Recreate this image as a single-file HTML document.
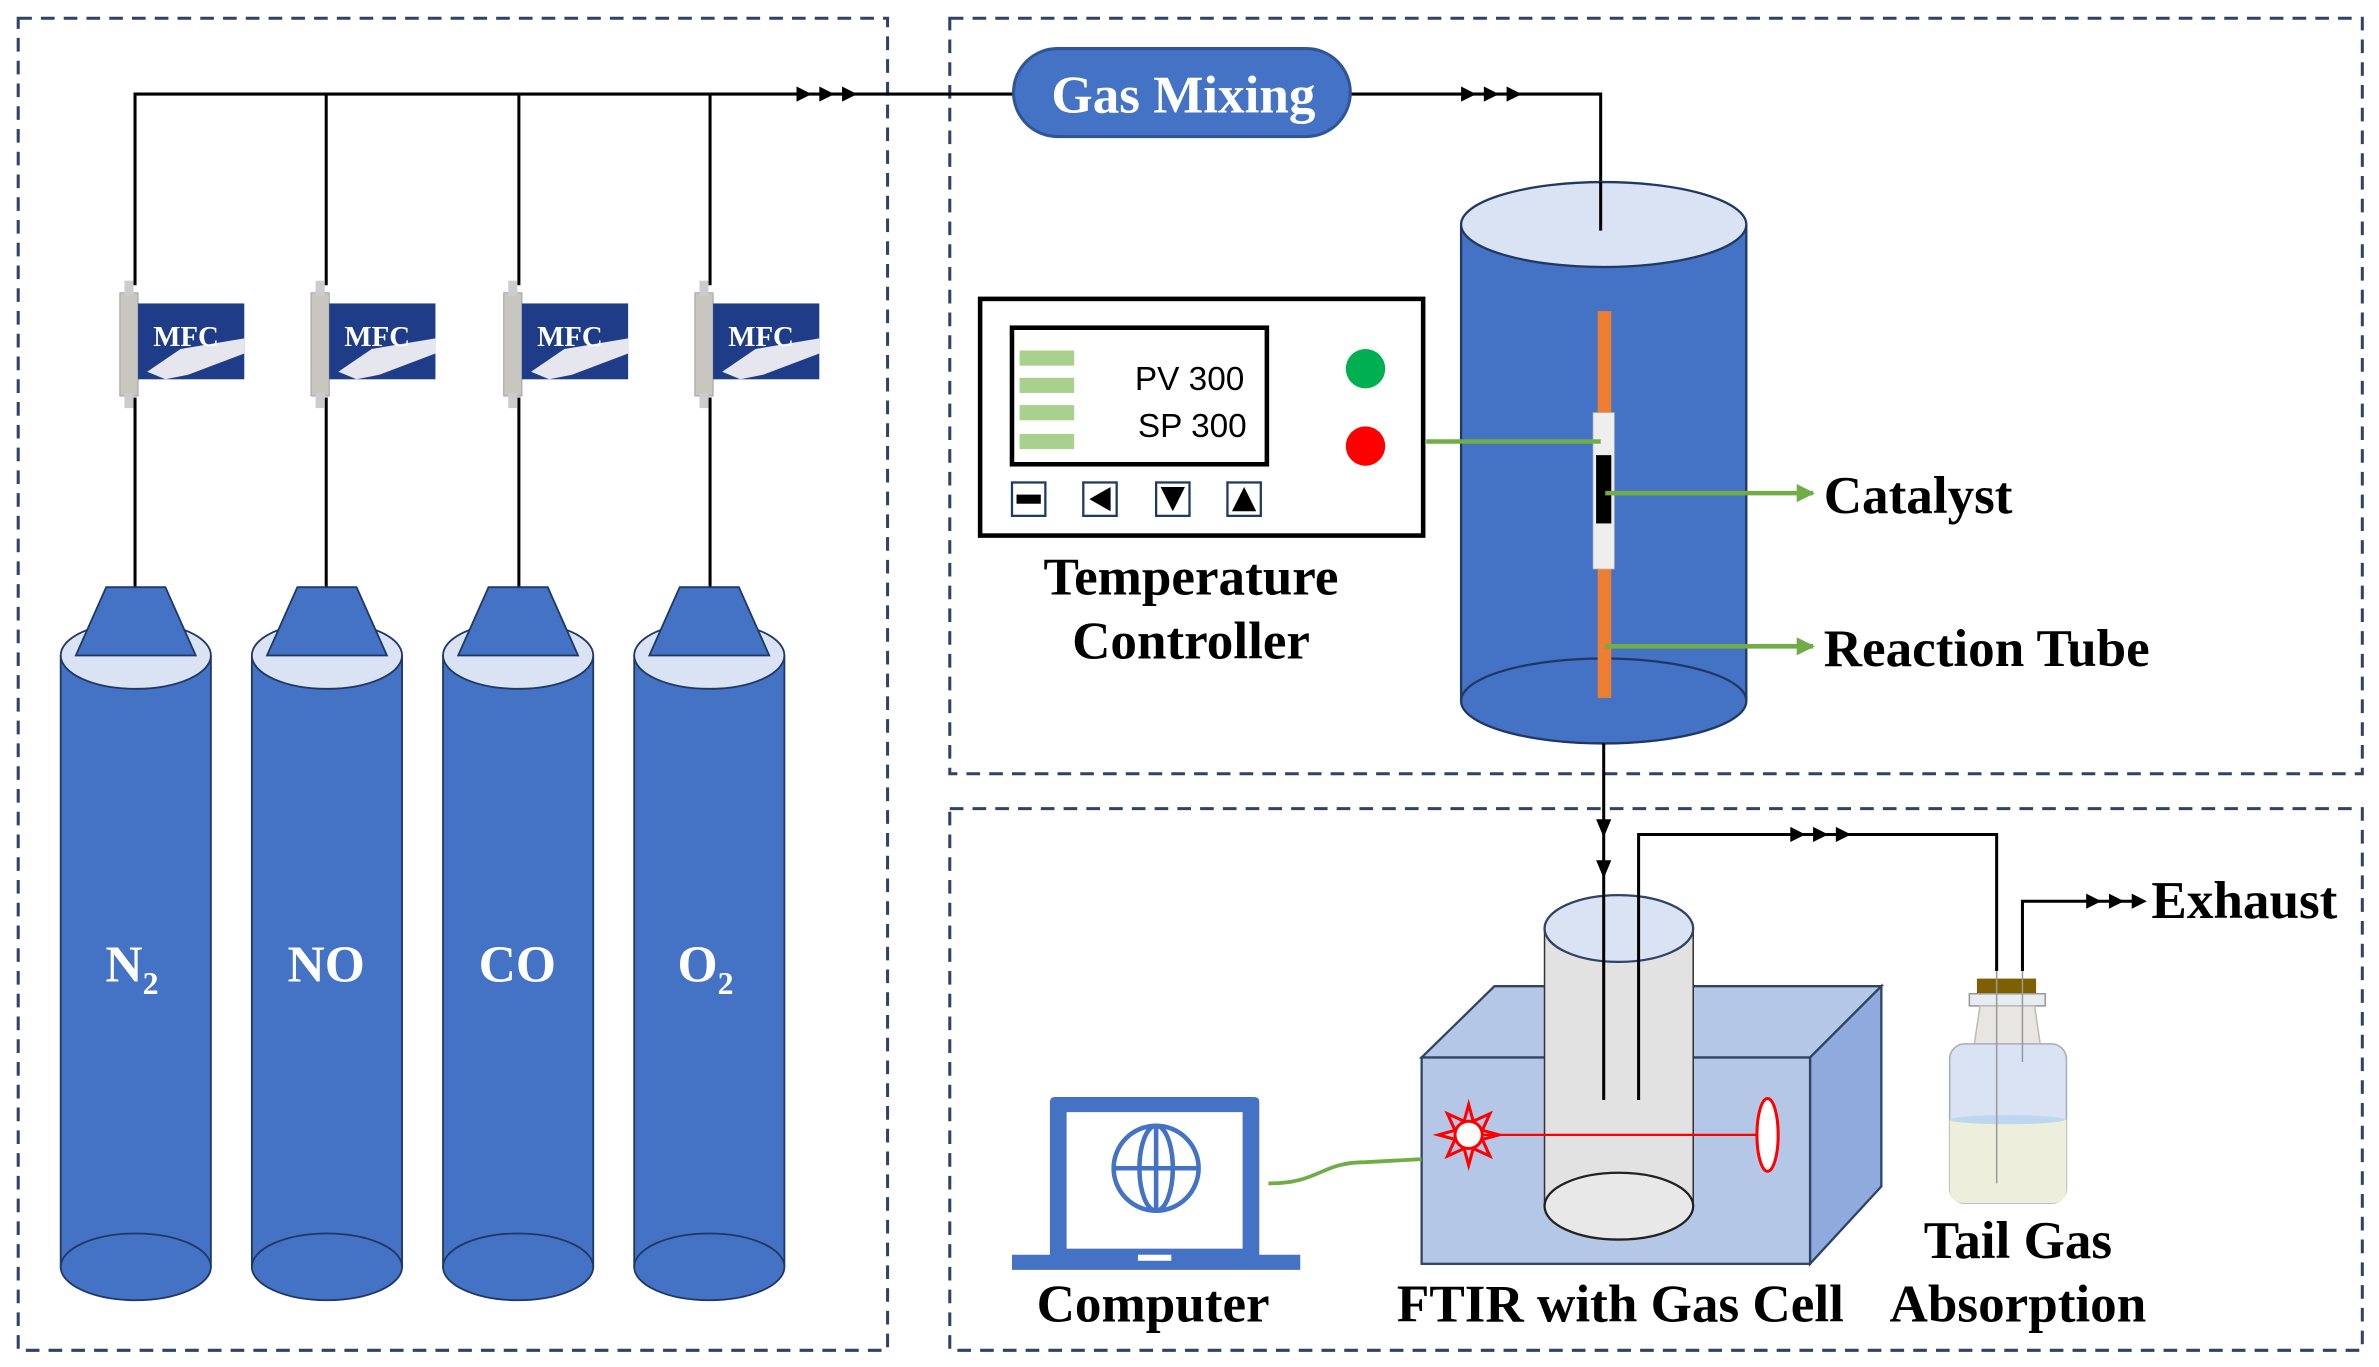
<!DOCTYPE html>
<html><head><meta charset="utf-8"><style>
html,body{margin:0;padding:0;background:#fff;}
svg{display:block;}
text{font-family:"Liberation Serif",serif;font-weight:bold;}
</style></head><body>
<svg width="2379" height="1367" viewBox="0 0 1568 901" preserveAspectRatio="none" xmlns="http://www.w3.org/2000/svg">
<defs>
<marker id="ag" viewBox="0 0 10 10" refX="9" refY="5" markerWidth="4" markerHeight="4" orient="auto"><path d="M0,0L10,5L0,10z" fill="#70ad47"/></marker>
<g id="tri"><path d="M0,-5L10,0L0,5z" fill="#000"/></g>
<g id="ttt"><use href="#tri" x="0"/><use href="#tri" x="15"/><use href="#tri" x="30"/></g>
<g id="mfc">
<rect x="-10" y="-32" width="12" height="68" fill="#c8c6c0" stroke="#999" stroke-width="0.6"/>
<rect x="-7" y="-40" width="6" height="10" fill="#ccc"/>
<rect x="-7" y="34" width="6" height="10" fill="#ccc"/>
<rect x="2" y="-25" width="70" height="50" fill="#1f3c88"/>
<path d="M8,20L30,5L72,-2L72,8L35,22L20,25z" fill="#e6e6ef"/>
<text x="12" y="3" font-size="19" fill="#fff">MFC</text>
</g>
<g id="cyl">
<rect x="0" y="432" width="99" height="403" fill="#4472c4"/>
<ellipse cx="49.5" cy="835" rx="49.5" ry="22" fill="#4472c4" stroke="#1f3864" stroke-width="1.2"/>
<line x1="0" y1="432" x2="0" y2="835" stroke="#1f3864" stroke-width="1.2"/>
<line x1="99" y1="432" x2="99" y2="835" stroke="#1f3864" stroke-width="1.2"/>
<ellipse cx="49.5" cy="432" rx="49.5" ry="22" fill="#dae3f3" stroke="#1f3864" stroke-width="1.2"/>
<path d="M30,387L69,387L89,432L10,432z" fill="#4472c4" stroke="#1f3864" stroke-width="1.2"/>
</g>
</defs>

<g fill="none" stroke="#2f4366" stroke-width="2" stroke-dasharray="9,6">
<rect x="12" y="12" width="573" height="878"/>
<rect x="626" y="12" width="931" height="498"/>
<rect x="626" y="533" width="931" height="357"/>
</g>

<g stroke="#000" stroke-width="2" fill="none">
<polyline points="89,188 89,62 668,62"/>
<line x1="215" y1="62" x2="215" y2="188"/>
<line x1="342" y1="62" x2="342" y2="188"/>
<line x1="468" y1="62" x2="468" y2="188"/>
<line x1="89" y1="262" x2="89" y2="387"/>
<line x1="215" y1="262" x2="215" y2="387"/>
<line x1="342" y1="262" x2="342" y2="387"/>
<line x1="468" y1="262" x2="468" y2="387"/>
<polyline points="890,62 1055,62 1055,152"/>
</g>
<use href="#ttt" x="525" y="62"/>
<use href="#ttt" x="963" y="62"/>

<use href="#mfc" x="89" y="225"/>
<use href="#mfc" x="215" y="225"/>
<use href="#mfc" x="342" y="225"/>
<use href="#mfc" x="468" y="225"/>

<use href="#cyl" x="40"/>
<use href="#cyl" x="166"/>
<use href="#cyl" x="292"/>
<use href="#cyl" x="418"/>
<g fill="#fff" font-size="34" text-anchor="middle">
<text x="87" y="647">N<tspan font-size="21" dy="8">2</tspan></text>
<text x="215" y="647">NO</text>
<text x="341" y="647">CO</text>
<text x="465" y="647">O<tspan font-size="21" dy="8">2</tspan></text>
</g>

<rect x="668" y="32" width="222" height="58" rx="29" fill="#4472c4" stroke="#2f5597" stroke-width="2"/>
<text x="780" y="74" font-size="35" fill="#fff" text-anchor="middle">Gas Mixing</text>

<rect x="963" y="148" width="188" height="314" fill="#4472c4"/>
<line x1="963" y1="148" x2="963" y2="462" stroke="#1f3864" stroke-width="1.5"/>
<line x1="1151" y1="148" x2="1151" y2="462" stroke="#1f3864" stroke-width="1.5"/>
<ellipse cx="1057" cy="462" rx="94" ry="28" fill="#4472c4" stroke="#1f3864" stroke-width="1.5"/>
<ellipse cx="1057" cy="148" rx="94" ry="28" fill="#dae3f3" stroke="#1f3864" stroke-width="1.5"/>
<line x1="1055" y1="120" x2="1055" y2="152" stroke="#000" stroke-width="2"/>
<rect x="1053" y="205" width="9" height="255" fill="#ed7d31"/>
<rect x="1050" y="272" width="14" height="103" fill="#eee" stroke="#bbb" stroke-width="0.5"/>
<rect x="1052" y="300" width="10" height="45" fill="#000"/>
<g stroke="#70ad47" stroke-width="3">
<line x1="940" y1="291" x2="1055" y2="291"/>
<line x1="1058" y1="325" x2="1195" y2="325" marker-end="url(#ag)"/>
<line x1="1058" y1="426" x2="1195" y2="426" marker-end="url(#ag)"/>
</g>
<text x="1202" y="338" font-size="35">Catalyst</text>
<text x="1202" y="439" font-size="35">Reaction Tube</text>

<rect x="646" y="197" width="292" height="156" fill="#fff" stroke="#000" stroke-width="3"/>
<rect x="667" y="216" width="168" height="90" fill="#fff" stroke="#000" stroke-width="3"/>
<g fill="#a9d18e"><rect x="672" y="231" width="36" height="10"/><rect x="672" y="249" width="36" height="10"/><rect x="672" y="267" width="36" height="10"/><rect x="672" y="286" width="36" height="10"/></g>
<text x="748" y="257" font-size="22" style="font-family:'Liberation Sans',sans-serif;font-weight:normal">PV 300</text>
<text x="750" y="288" font-size="22" style="font-family:'Liberation Sans',sans-serif;font-weight:normal">SP 300</text>
<circle cx="900" cy="243" r="13" fill="#00b050"/>
<circle cx="900" cy="294" r="13" fill="#ff0000"/>
<g stroke="#1f3864" stroke-width="1.5" fill="#fff">
<rect x="667" y="318" width="22" height="22"/><rect x="714" y="318" width="22" height="22"/><rect x="762" y="318" width="22" height="22"/><rect x="809" y="318" width="22" height="22"/>
</g>
<rect x="670" y="326" width="16" height="6" fill="#000"/>
<path d="M732,321L718,329L732,337z" fill="#000"/>
<path d="M765,321L781,321L773,337z" fill="#000"/>
<path d="M812,337L828,337L820,321z" fill="#000"/>
<text x="785" y="392" font-size="35" text-anchor="middle">Temperature</text>
<text x="785" y="434" font-size="35" text-anchor="middle">Controller</text>

<g stroke="#000" stroke-width="2" fill="none">
<line x1="1057" y1="490" x2="1057" y2="725"/>
<polyline points="1080,725 1080,550 1316,550 1316,640"/>
<polyline points="1333,640 1333,594 1410,594"/>
</g>
<path d="M1052,540L1062,540L1057,552z M1052,567L1062,567L1057,579z" fill="#000"/>
<use href="#ttt" x="1180" y="550"/>
<use href="#ttt" x="1375" y="594"/>
<text x="1418" y="605" font-size="35">Exhaust</text>

<path d="M937,697L985,650L1240,650L1193,697z" fill="#b4c7e7" stroke="#2f4366" stroke-width="1.5"/>
<path d="M1193,697L1240,650L1240,782L1193,833z" fill="#8faadc" stroke="#2f4366" stroke-width="1.5"/>
<rect x="937" y="697" width="256" height="136" fill="#b4c7e7" stroke="#2f4366" stroke-width="1.5"/>
<rect x="1018" y="612" width="98" height="183" fill="#e2e2e2" stroke="#333" stroke-width="1"/>
<ellipse cx="1067" cy="795" rx="49" ry="22" fill="#e8e8e8" stroke="#222" stroke-width="1.5"/>
<ellipse cx="1067" cy="612" rx="49" ry="22" fill="#dae3f3" stroke="#2f4366" stroke-width="1.5"/>
<g stroke="#000" stroke-width="2"><line x1="1057" y1="590" x2="1057" y2="725"/><line x1="1080" y1="590" x2="1080" y2="725"/></g>
<line x1="968" y1="748" x2="1165" y2="748" stroke="#ff0000" stroke-width="1.5"/>
<circle cx="968" cy="748" r="9" fill="#fff" stroke="#ff0000" stroke-width="2"/>
<path d="M968,728L971,739L982,734L977,745L988,748L977,751L982,762L971,757L968,768L965,757L954,762L959,751L948,748L959,745L954,734L965,739z" fill="none" stroke="#ff0000" stroke-width="2"/>
<ellipse cx="1165" cy="748" rx="7" ry="24" fill="#fff" stroke="#ff0000" stroke-width="2"/>

<rect x="692" y="723" width="138" height="112" fill="#4472c4" rx="3"/>
<rect x="703" y="733" width="116" height="90" fill="#fff"/>
<path d="M667,827L857,827L857,837L667,837z" fill="#4472c4"/>
<rect x="750" y="827" width="22" height="4" fill="#fff"/>
<g fill="none" stroke="#4472c4" stroke-width="3"><circle cx="762" cy="770" r="28"/><ellipse cx="762" cy="770" rx="11" ry="28"/><line x1="734" y1="770" x2="790" y2="770"/><line x1="762" y1="742" x2="762" y2="798"/></g>
<path d="M836,780C870,780 870,766 900,766L937,764" fill="none" stroke="#70ad47" stroke-width="2.5"/>

<rect x="1303" y="645" width="39" height="10" fill="#7f6000"/>
<rect x="1298" y="655" width="50" height="8" fill="#e8ebf0" stroke="#999"/>
<path d="M1305,663L1341,663L1345,690L1301,690z" fill="#e7e6e0" stroke="#bbb"/>
<rect x="1285" y="688" width="77" height="105" rx="10" fill="#dae3f3" stroke="#aab" stroke-width="1"/>
<path d="M1285,738L1362,738L1362,783Q1362,793 1352,793L1295,793Q1285,793 1285,783z" fill="#eeeedd"/>
<ellipse cx="1323" cy="738" rx="38" ry="3" fill="#bdd7ee"/>
<g stroke="#999" stroke-width="1"><line x1="1316" y1="640" x2="1316" y2="780"/><line x1="1333" y1="640" x2="1333" y2="700"/></g>

<g font-size="35" text-anchor="middle">
<text x="760" y="871">Computer</text>
<text x="1068" y="871">FTIR with Gas Cell</text>
<text x="1330" y="829">Tail Gas</text>
<text x="1330" y="871">Absorption</text>
</g>
</svg>
</body></html>
